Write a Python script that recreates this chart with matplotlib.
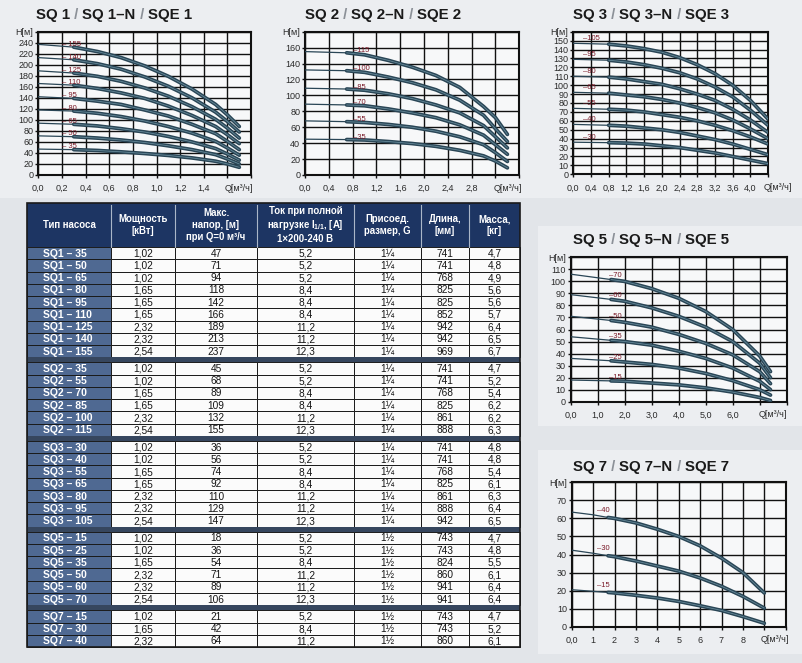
import numpy as np
import matplotlib
matplotlib.use("Agg")
import matplotlib.pyplot as plt
from matplotlib.patches import Rectangle

plt.rcParams['font.family'] = ['Liberation Sans', 'DejaVu Sans']

W, H = 802, 663

# ---------------- pump curves ----------------
sq1_q = [0, 0.3, 0.5, 0.7, 0.9, 1.1, 1.3, 1.5, 1.6, 1.7]
sq1_models = [35, 50, 65, 80, 95, 110, 125, 140, 155]
sq1_h = [
    [47, 46, 44.5, 42, 39, 35.5, 31, 25, 20, 14],
    [71, 69.5, 67, 63.5, 59, 53, 46, 37, 29, 20],
    [94, 92, 89, 84, 78, 70, 60, 48, 38, 27],
    [118, 116, 112, 106, 98, 88, 76, 61, 49, 36],
    [142, 139, 134, 128, 118, 107, 92, 75, 61, 46],
    [166, 163, 157, 149, 139, 125, 108, 88, 73, 57],
    [189, 185, 179, 170, 158, 143, 124, 101, 85, 67],
    [213, 209, 202, 192, 178, 161, 140, 114, 97, 78],
    [237, 232, 224, 213, 198, 179, 156, 128, 109, 88],
]

sq2_q = [0, 0.7, 1.0, 1.4, 1.8, 2.2, 2.6, 3.0, 3.2, 3.4]
sq2_models = [35, 55, 70, 85, 100, 115]
sq2_h = [
    [45, 44.5, 44, 42, 39.5, 36, 31, 24, 17.5, 9],
    [68, 67, 66, 63.5, 60, 55, 48, 38, 28, 17],
    [89, 88, 87, 83, 78, 72, 63, 50, 38, 26],
    [109, 108, 106.5, 102, 96, 88, 78, 62, 48, 34],
    [132, 131, 129, 123, 116, 107, 94, 75, 58, 42],
    [155, 153.5, 151, 144, 135.5, 125, 110, 86, 72, 51],
]

sq3_q = [0, 0.8, 1.2, 1.6, 2.0, 2.4, 2.8, 3.2, 3.6, 4.0, 4.4]
sq3_models = [30, 40, 55, 65, 80, 95, 105]
sq3_h = [
    [36, 35.5, 35, 34, 32, 30, 27, 24, 20, 16, 12],
    [56, 55, 54, 52, 50, 47, 43, 39, 34, 28, 22],
    [74, 73, 72, 70, 67, 64, 60, 55, 49, 42, 34],
    [92, 91, 89, 87, 84, 80, 75, 69, 61, 51, 40],
    [110, 109, 107, 104, 101, 96, 90, 83, 73, 61, 47],
    [129, 128, 126, 123, 119, 114, 107, 98, 87, 72, 55],
    [147, 146, 144, 141, 137, 131, 123, 113, 100, 83, 62],
]

sq5_q = [0, 1.5, 2, 3, 4, 5, 6, 7, 7.4]
sq5_models = [15, 25, 35, 50, 60, 70]
sq5_h = [
    [18, 17.3, 17, 15.5, 14, 11.5, 8, 3.5, 1],
    [36, 34, 33, 31, 28, 23.5, 17.5, 10, 5.5],
    [54, 51, 50, 47, 42, 36, 28, 17, 10],
    [71, 67.5, 66, 62, 56, 48.5, 39, 25, 15],
    [89, 85, 83.5, 78, 71, 62, 50, 32, 20],
    [106, 101.5, 100, 94, 86, 75, 60, 38, 25],
]

sq7_q = [0, 1, 1.7, 2, 3, 4, 5, 6, 7, 8, 9]
sq7_models = [15, 30, 40]
sq7_h = [
    [20.5, 19.6, 19, 18.7, 17.4, 15.9, 14, 11.6, 9, 5.6, 1.9],
    [42.4, 40.7, 39.3, 38.8, 36.4, 33.6, 30.8, 27, 22.4, 16.8, 10.3],
    [63.5, 62, 60.5, 60, 57.5, 54, 50, 44.8, 38, 30, 18.7],
]

# ---------------- table data ----------------
sq1_power = ['1,02', '1,02', '1,02', '1,65', '1,65', '1,65', '2,32', '2,32', '2,54']
sq1_head = [47, 71, 94, 118, 142, 166, 189, 213, 237]
sq1_current = ['5,2', '5,2', '5,2', '8,4', '8,4', '8,4', '11,2', '11,2', '12,3']
sq1_length = [741, 741, 768, 825, 825, 852, 942, 942, 969]
sq1_mass = ['4,7', '4,8', '4,9', '5,6', '5,6', '5,7', '6,4', '6,5', '6,7']

sq2_power = ['1,02', '1,02', '1,65', '1,65', '2,32', '2,54']
sq2_head = [45, 68, 89, 109, 132, 155]
sq2_current = ['5,2', '5,2', '8,4', '8,4', '11,2', '12,3']
sq2_length = [741, 741, 768, 825, 861, 888]
sq2_mass = ['4,7', '5,2', '5,4', '6,2', '6,2', '6,3']

sq3_power = ['1,02', '1,02', '1,65', '1,65', '2,32', '2,32', '2,54']
sq3_head = [36, 56, 74, 92, 110, 129, 147]
sq3_current = ['5,2', '5,2', '8,4', '8,4', '11,2', '11,2', '12,3']
sq3_length = [741, 741, 768, 825, 861, 888, 942]
sq3_mass = ['4,8', '4,8', '5,4', '6,1', '6,3', '6,4', '6,5']

sq5_power = ['1,02', '1,02', '1,65', '2,32', '2,32', '2,54']
sq5_head = [18, 36, 54, 71, 89, 106]
sq5_current = ['5,2', '5,2', '8,4', '11,2', '11,2', '12,3']
sq5_length = [743, 743, 824, 860, 941, 941]
sq5_mass = ['4,7', '4,8', '5,5', '6,1', '6,4', '6,4']

sq7_power = ['1,02', '1,65', '2,32']
sq7_head = [21, 42, 64]
sq7_current = ['5,2', '8,4', '11,2']
sq7_length = [743, 743, 860]
sq7_mass = ['4,7', '5,2', '6,1']

header = ['Тип насоса', 'Мощность\n[кВт]', 'Макс.\nнапор, [м]\nпри Q=0 м³/ч',
          'Ток при полной\nнагрузке $\\mathregular{I_{1/1}}$, [A]\n1×200-240 В',
          'Присоед.\nразмер, G', 'Длина,\n[мм]', 'Масса,\n[кг]']

groups = [
    ('SQ1', sq1_models, sq1_power, sq1_head, sq1_current, '1¼', sq1_length, sq1_mass),
    ('SQ2', sq2_models, sq2_power, sq2_head, sq2_current, '1¼', sq2_length, sq2_mass),
    ('SQ3', sq3_models, sq3_power, sq3_head, sq3_current, '1¼', sq3_length, sq3_mass),
    ('SQ5', sq5_models, sq5_power, sq5_head, sq5_current, '1½', sq5_length, sq5_mass),
    ('SQ7', sq7_models, sq7_power, sq7_head, sq7_current, '1½', sq7_length, sq7_mass),
]

DARK = '#2a4656'
LIGHT = '#6a8e9e'
LABEL_RED = '#7a1a28'

charts = [
    dict(title='1', box=(38.3, 31.7, 251.1, 175), q=sq1_q, models=sq1_models, h=sq1_h,
         xmax=1.8, xstep=0.2, xlabels=['0,0', '0,2', '0,4', '0,6', '0,8', '1,0', '1,2', '1,4'], qx=1.7,
         ymax=260, ystep=20, thick=1, lab_q=0.2, lab_i=1, lab_dy=5, lab_fmt='– {}', tc=(114, 15)),
    dict(title='2', box=(305, 31.7, 519.3, 175), q=sq2_q, models=sq2_models, h=sq2_h,
         xmax=3.6, xstep=0.4, xlabels=['0,0', '0,4', '0,8', '1,2', '1,6', '2,0', '2,4', '2,8'], qx=3.4,
         ymax=180, ystep=20, thick=1, lab_q=0.8, lab_i=1, lab_dy=2.5, lab_fmt='–{}', tc=(383, 15)),
    dict(title='3', box=(573.3, 31.7, 768, 174.3), q=sq3_q, models=sq3_models, h=sq3_h,
         xmax=4.4, xstep=0.4,
         xlabels=['0,0', '0,4', '0,8', '1,2', '1,6', '2,0', '2,4', '2,8', '3,2', '3,6', '4,0'], qx=4.62,
         ymax=160, ystep=10, thick=1, lab_q=0.22, lab_i=0, lab_dy=5, lab_fmt='–{}', tc=(651, 15)),
    dict(title='5', box=(570.5, 257.3, 786.7, 401.7), q=sq5_q, models=sq5_models, h=sq5_h,
         xmax=8, xstep=1, xlabels=['0,0', '1,0', '2,0', '3,0', '4,0', '5,0', '6,0'], qx=7.5,
         ymax=120, ystep=10, thick=1, lab_q=1.42, lab_i=1, lab_dy=3, lab_fmt='–{}', tc=(651, 240)),
    dict(title='7', box=(571.7, 482.3, 785.7, 626.7), q=sq7_q, models=sq7_models, h=sq7_h,
         xmax=10, xstep=1, xlabels=['0,0', '1', '2', '3', '4', '5', '6', '7', '8'], qx=9.5,
         ymax=80, ystep=10, thick=2, lab_q=1.17, lab_i=2, lab_dy=4, lab_fmt='–{}', tc=(651, 467)),
]

fig = plt.figure(figsize=(W / 100, H / 100), dpi=100, facecolor='#e2e5e9')

# background axes in pixel coordinates
bg = fig.add_axes([0, 0, 1, 1])
bg.set_xlim(0, W)
bg.set_ylim(H, 0)
bg.axis('off')
for (x0, y0, w, h) in [(0, 0, 802, 198), (538, 226, 264, 200), (538, 450, 264, 204)]:
    bg.add_patch(Rectangle((x0, y0), w, h, color='#eceef1', lw=0, zorder=0))


def px_axes(l, t, r, b):
    return fig.add_axes([l / W, 1 - b / H, (r - l) / W, (b - t) / H])


def draw_title(cx, cy, num):
    parts = [('SQ ' + num, '#1a1a1a'), (' / ', '#8c9198'), ('SQ ' + num + '–N', '#1a1a1a'),
             (' / ', '#8c9198'), ('SQE ' + num, '#1a1a1a')]
    r = fig.canvas.get_renderer()
    texts = [fig.text(0, 1 - cy / H, s, color=c, fontsize=10.8, fontweight='bold',
                      va='center', ha='left') for s, c in parts]
    widths = [t.get_window_extent(r).width for t in texts]
    x = cx - sum(widths) / 2
    for t, w in zip(texts, widths):
        t.set_x(x / W)
        x += w


for c in charts:
    ax = px_axes(*c['box'])
    ax.set_facecolor('#f7f8f9')
    ax.set_xlim(0, c['xmax'])
    ax.set_ylim(0, c['ymax'])
    nx = int(round(c['xmax'] / c['xstep']))
    ny = int(round(c['ymax'] / c['ystep']))
    xt = [i * c['xstep'] for i in range(nx + 1)]
    yt = [i * c['ystep'] for i in range(ny + 1)]
    ax.set_xticks(xt)
    ax.set_yticks(yt)
    ax.set_xticklabels(c['xlabels'] + [''] * (len(xt) - len(c['xlabels'])))
    ax.set_yticklabels([str(int(v)) for v in yt[:-1]] + ['H[м]'])
    ax.grid(True, color='#111111', lw=1.0)
    ax.set_axisbelow(True)
    for s in ax.spines.values():
        s.set_linewidth(1.5)
        s.set_color('#111111')
    ax.tick_params(direction='out', length=2.5, width=1, color='#111111',
                   labelsize=6.5, labelcolor='#2a2a2a')
    ax.tick_params(axis='y', pad=1)
    ax.tick_params(axis='x', pad=4)
    ax.annotate('Q[м³/ч]', xy=(c['qx'], 0), xycoords=('data', 'axes fraction'),
                xytext=(0, -6.3), textcoords='offset points', ha='center', va='top',
                fontsize=6.5, color='#2a2a2a', annotation_clip=False)

    k = c['thick']
    for m, hs in zip(c['models'], c['h']):
        ax.plot(c['q'][:k + 1], hs[:k + 1], color=DARK, lw=0.9, zorder=3)
        ax.plot(c['q'][k:], hs[k:], color=DARK, lw=2.7, solid_capstyle='round',
                solid_joinstyle='round', zorder=4)
        ax.plot(c['q'][k:], hs[k:], color=LIGHT, lw=0.55, solid_capstyle='round',
                solid_joinstyle='round', zorder=5)
        ax.text(c['lab_q'], hs[c['lab_i']] + c['lab_dy'], c['lab_fmt'].format(m),
                fontsize=5.5, color=LABEL_RED, ha='left', va='center', zorder=6)

    draw_title(c['tc'][0], c['tc'][1], c['title'])

# ---------------- table ----------------
col_edges = [27, 111, 175, 257, 354, 421, 469, 520]
top, head_bot = 203, 247
row_h, sep_h = 12.26, 5

bg.add_patch(Rectangle((col_edges[0], top), col_edges[-1] - col_edges[0], head_bot - top,
                       color='#1d3563', lw=0, zorder=2))
for xe in col_edges[1:-1]:
    bg.plot([xe, xe], [top + 2, head_bot], color='#aab6c8', lw=0.8, zorder=3)
for i, txt in enumerate(header):
    bg.text((col_edges[i] + col_edges[i + 1]) / 2, (top + head_bot) / 2, txt, color='white',
            fontsize=6.9, fontweight='bold', ha='center', va='center', linespacing=1.25, zorder=4)

y = head_bot
for gi, (pref, models, power, head, cur, conn, length, mass) in enumerate(groups):
    if gi > 0:
        bg.add_patch(Rectangle((col_edges[0], y), col_edges[-1] - col_edges[0], sep_h,
                               color='#36465e', lw=0, zorder=2))
        y += sep_h
    for j, m in enumerate(models):
        vals = [power[j], str(head[j]), cur[j], conn, str(length[j]), mass[j]]
        bg.add_patch(Rectangle((col_edges[0], y), col_edges[1] - col_edges[0], row_h,
                               facecolor='#4f6992', edgecolor='#1a1a1a', lw=0.7, zorder=2))
        bg.text(col_edges[0] + 16, y + row_h / 2 + 0.5, f'{pref} – {m}', color='white',
                fontsize=7.5, fontweight='bold', ha='left', va='center', zorder=4)
        for ci, v in enumerate(vals):
            x0, x1 = col_edges[ci + 1], col_edges[ci + 2]
            bg.add_patch(Rectangle((x0, y), x1 - x0, row_h, facecolor='#fbfbfb',
                                   edgecolor='#1a1a1a', lw=0.7, zorder=2))
            bg.text((x0 + x1) / 2, y + row_h / 2 + 0.5, v, color='#151515', fontsize=7.3,
                    ha='center', va='center', zorder=4)
        y += row_h

bg.add_patch(Rectangle((col_edges[0], top), col_edges[-1] - col_edges[0], y - top,
                       fill=False, edgecolor='#1a1a1a', lw=1.2, zorder=5))

fig.savefig('out.png', dpi=100, facecolor=fig.get_facecolor())
